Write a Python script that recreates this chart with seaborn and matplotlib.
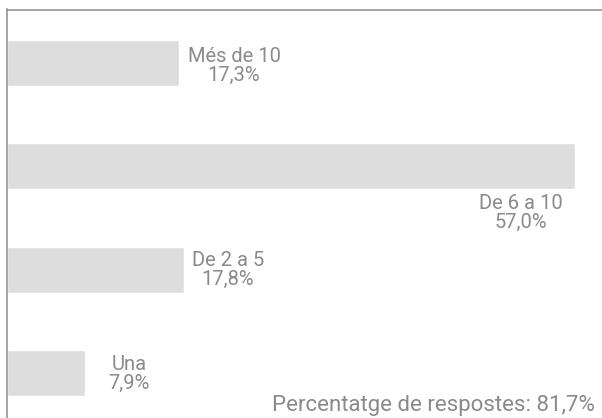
import matplotlib
matplotlib.use("Agg")
import matplotlib.pyplot as plt
import pandas as pd
import seaborn as sns

categories = ["Més de 10", "De 6 a 10", "De 2 a 5", "Una"]
shares = [17.3, 57.0, 17.8, 7.9]
share_labels = ["17,3%", "57,0%", "17,8%", "7,9%"]
footnote = "Percentatge de respostes: 81,7%"

df = pd.DataFrame({"cat": categories, "pct": shares})

sns.set_style("white")
plt.rcParams["font.family"] = ["Roboto", "DejaVu Sans"]

txt_col = "#8a8a8a"
fig = plt.figure(figsize=(6.02, 4.18), dpi=100)
ax = fig.add_axes([6.5 / 602, 0.0, 1 - 6.5 / 602, 1 - 9.5 / 418])

sns.barplot(data=df, x="pct", y="cat", orient="h", color="#dddddd",
            saturation=1, width=0.445, ax=ax)

ax.set_xlim(0, 59.7)
ax.set_ylim(3.436, -0.518)
ax.set_xlabel("")
ax.set_ylabel("")
ax.set_xticks([])
ax.set_yticks([])
for side in ["right", "bottom"]:
    ax.spines[side].set_visible(False)
for side in ["left", "top"]:
    ax.spines[side].set_color("#8c8c8c")
    ax.spines[side].set_linewidth(1.1)

# label placement in pixels from bar end / bar centre (dx, baseline dy of 1st line)
offs = [(55, 1), (-54, -43), (44, 4), (44, 3)]
for i, (c, v, lab) in enumerate(zip(categories, shares, share_labels)):
    dx, dy = offs[i]
    ax.annotate(c, xy=(v, i), xytext=(dx, dy), textcoords="offset pixels",
                ha="center", va="baseline", fontsize=14.5, color=txt_col)
    ax.annotate(lab, xy=(v, i), xytext=(dx, dy - 19), textcoords="offset pixels",
                ha="center", va="baseline", fontsize=14.5, color=txt_col)

fig.text(595 / 602, 1 - 411 / 418, footnote, ha="right", va="baseline",
         fontsize=16, color=txt_col)

fig.savefig("out.png", dpi=100)
